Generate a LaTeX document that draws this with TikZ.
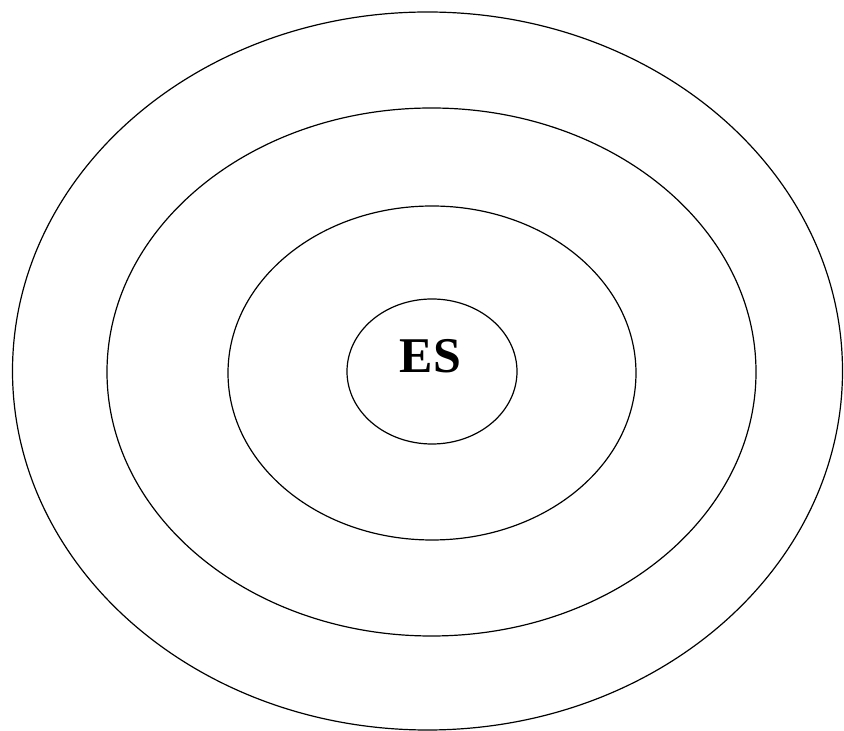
\documentclass[tikz,border=0pt]{standalone}
\usepackage{fontspec}
\setmainfont{Liberation Serif}
\usetikzlibrary{shapes.geometric}

\begin{document}
\begin{tikzpicture}[x=1pt,y=1pt,
		ring/.style={ellipse,draw=black,line width=1.2pt,inner sep=0pt},
		lbl/.style={font=\fontsize{50}{60}\selectfont\bfseries,inner sep=0pt}
		]
		\useasboundingbox (0,0) rectangle (844,731);
		\node[ring,minimum width=830,minimum height=718] (outer) at (427.5,360) {};
		\node[ring,minimum width=649,minimum height=528] (second) at (431.5,359) {};
		\node[ring,minimum width=408,minimum height=334] (third) at (432,358) {};
		\node[ring,minimum width=170,minimum height=145] (core) at (432,359.5) {};
		\node[lbl] (es) at (430.5,375) {ES};
	\end{tikzpicture}
\end{document}
